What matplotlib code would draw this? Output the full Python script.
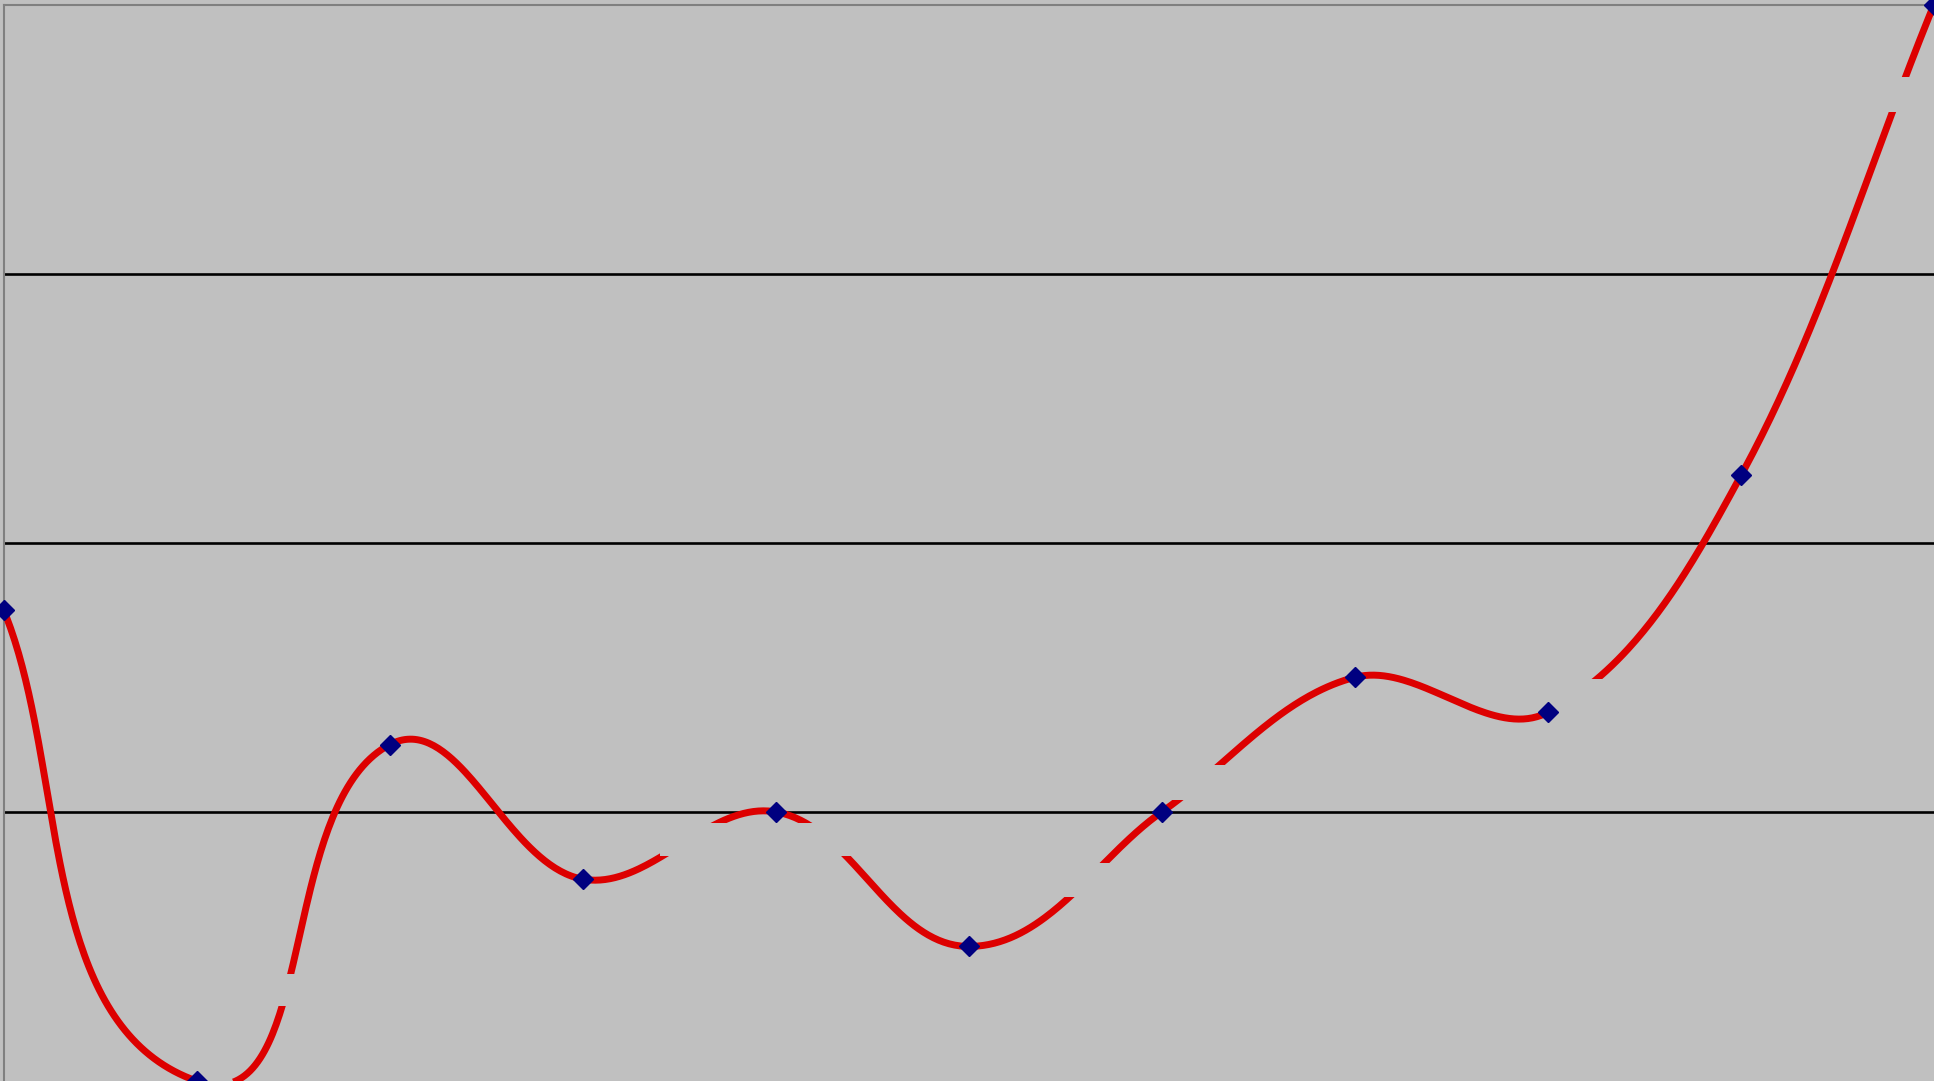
import numpy as np
import matplotlib
matplotlib.use("Agg")
import matplotlib.pyplot as plt
from matplotlib.patches import Rectangle

# ---- data ----
x_vals = [0, 1, 2, 3, 4, 5, 6, 7, 8, 9, 10]
y_vals = [1.75, 0.0, 1.25, 0.75, 1.0, 0.5, 1.0, 1.5, 1.37, 2.25, 4.0]
grid_levels = [1, 2, 3]

# regions where the smoothed line is hidden by (invisible) label boxes: x0, x1, y0, y1
hidden_x0 = [1.35, 3.40, 5.40, 6.00, 8.00, 9.70]
hidden_x1 = [1.60, 4.40, 5.85, 6.45, 8.35, 9.95]
hidden_y0 = [0.280, 0.835, 0.683, 1.045, 1.372, 3.600]
hidden_y1 = [0.399, 0.959, 0.811, 1.173, 1.494, 3.730]


def smooth_curve(x, y, sx, sy, n=80):
    """Cubic Bezier smoothing in screen space: handles of one third of the
    segment chord along the direction joining the neighbouring points."""
    P = np.column_stack([np.asarray(x, float) * sx, np.asarray(y, float) * sy])
    k = len(P)
    U = np.zeros_like(P)
    for i in range(k):
        if i == 0:
            d = P[1] - P[0]
        elif i == k - 1:
            d = P[-1] - P[-2]
        else:
            d = P[i + 1] - P[i - 1]
        U[i] = d / np.hypot(*d)
    pts = []
    for i in range(k - 1):
        L = np.hypot(*(P[i + 1] - P[i]))
        b0, b3 = P[i], P[i + 1]
        b1 = b0 + U[i] * L / 3
        b2 = b3 - U[i + 1] * L / 3
        t = np.linspace(0, 1, n, endpoint=(i == k - 2))[:, None]
        seg = ((1 - t) ** 3 * b0 + 3 * (1 - t) ** 2 * t * b1
               + 3 * (1 - t) * t ** 2 * b2 + t ** 3 * b3)
        pts.append(seg)
    pts = np.vstack(pts)
    return pts[:, 0] / sx, pts[:, 1] / sy


W, H = 1934, 1081
fig = plt.figure(figsize=(W / 100, H / 100), dpi=100)
fig.patch.set_facecolor("#C0C0C0")

left = 3.7 / W
right = 1.0
top = 1 - 4.5 / H
ax = fig.add_axes([left, 0, right - left, top])
ax.set_facecolor("#C0C0C0")
ax.set_xlim(0, 10)
ax.set_ylim(0, 4)

ax.set_yticks(grid_levels)
ax.set_xticks([])
ax.tick_params(left=False, labelleft=False, bottom=False, labelbottom=False)
ax.yaxis.grid(True, color="black", linewidth=1.9, zorder=1)
ax.set_axisbelow(True)

for side in ["right", "bottom"]:
    ax.spines[side].set_visible(False)
for side in ["top", "left"]:
    ax.spines[side].set_color("#808080")
    ax.spines[side].set_linewidth(1.5)

sx = (right - left) * W / 10.0
sy = top * H / 4.0
cx, cy = smooth_curve(x_vals, y_vals, sx, sy)
ax.plot(cx, cy, color="#DD0000", linewidth=5.0, solid_capstyle="butt", zorder=3)

for a, b, c, d in zip(hidden_x0, hidden_x1, hidden_y0, hidden_y1):
    ax.add_patch(Rectangle((a, c), b - a, d - c, facecolor="#C0C0C0",
                           edgecolor="none", zorder=4))

ax.plot(x_vals, y_vals, linestyle="none", marker="D", markersize=10,
        markerfacecolor="#000080", markeredgecolor="#000080",
        markeredgewidth=1.0, clip_on=False, zorder=6)

fig.savefig("out.png", dpi=100, facecolor=fig.get_facecolor())
